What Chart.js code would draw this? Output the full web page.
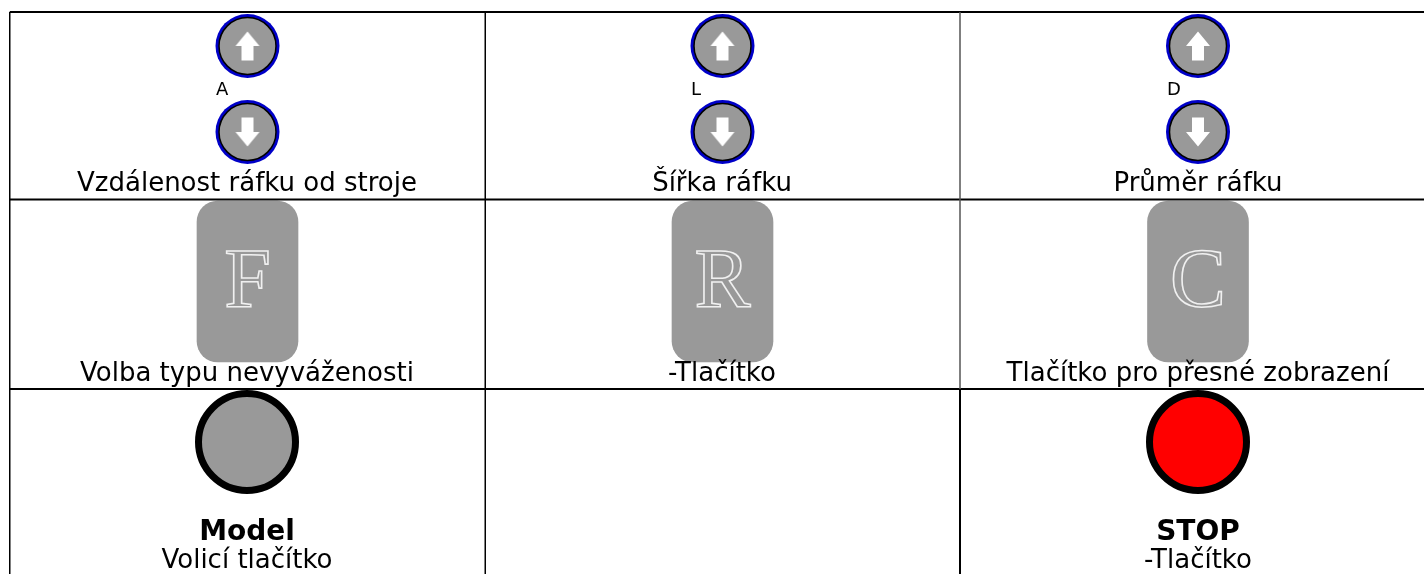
<!DOCTYPE html>
<html>
<head>
<meta charset="utf-8">
<title>Tlačítka</title>
<script src="https://cdn.jsdelivr.net/npm/chart.js@4"></script>
<style>
body { margin: 0; background: #fff; }
canvas { display: block; }
</style>
</head>
<body>
<canvas id="myChart" width="1424" height="574"></canvas>
<script>
// table lines
const columnLines = [9.75, 485.25, 960]
const rowLines = [12, 199.5, 389]
const columnColors = ['#000', '#000', '#555']
const columnWidths = [1.5, 1.5, 1.5]
const tableRight = 1424
const tableBottom = 574

// round arrow buttons
const arrowX = [247.5, 722.5, 1198]
const arrowUpY = [46, 46, 46]
const arrowDownY = [132, 132, 132]

// rounded key buttons
const keyX = [247.5, 722.5, 1198]
const keyTop = [201, 201, 201]
const keyBottom = [362, 362, 362]
const keyLetters = ['F', 'R', 'C']
const keyLetterY = [307, 307, 307]

// big round buttons
const bigX = [247, 1198]
const bigY = [442, 442]
const bigColors = ['#999999', '#ff0000']
const bigLabels = ['Model', 'STOP']
const bigLabelY = [540, 540]
const bigCaptions = ['Volicí tlačítko', '-Tlačítko']
const bigCaptionY = [568, 568]

// small letters next to arrows
const smallLabels = ['A', 'L', 'D']
const smallX = [216, 691, 1167]
const smallY = [95, 95, 95]

// captions
const captions = ['Vzdálenost ráfku od stroje', 'Šířka ráfku', 'Průměr ráfku',
    'Volba typu nevyváženosti', '-Tlačítko', 'Tlačítko pro přesné zobrazení']
const captionX = [247, 722, 1198, 247, 722, 1198]
const captionY = [191, 191, 191, 381, 381, 381]

const textFont = '"DejaVu Sans"'

function arrowImage(up) {
    let c = document.createElement('canvas')
    c.width = 26
    c.height = 30
    let g = c.getContext('2d')
    if (!up) {
        g.translate(0, 30)
        g.scale(1, -1)
    }
    g.fillStyle = '#fff'
    g.beginPath()
    g.moveTo(13, 0.5)
    g.lineTo(25, 15)
    g.lineTo(19, 15)
    g.lineTo(19, 29.5)
    g.lineTo(7, 29.5)
    g.lineTo(7, 15)
    g.lineTo(1, 15)
    g.closePath()
    g.fill()
    return c
}

function pts(xs, ys) {
    return xs.map((x, i) => ({ x: x, y: ys[i] }))
}

let datasets = []

columnLines.forEach((x, i) => {
    datasets.push({
        type: 'scatter', showLine: true, pointRadius: 0, borderColor: columnColors[i], borderWidth: columnWidths[i],
        data: [{ x: x, y: rowLines[0] }, { x: x, y: rowLines[2] }]
    })
    datasets.push({
        type: 'scatter', showLine: true, pointRadius: 0, borderColor: '#000', borderWidth: i == 2 ? 2 : 1.5,
        data: [{ x: x, y: rowLines[2] }, { x: x, y: tableBottom }]
    })
})
rowLines.forEach(y => {
    datasets.push({
        type: 'scatter', showLine: true, pointRadius: 0, borderColor: '#000', borderWidth: 2,
        data: [{ x: columnLines[0], y: y }, { x: tableRight, y: y }]
    })
})

// order: lower is drawn on top
let ups = pts(arrowX, arrowUpY)
let downs = pts(arrowX, arrowDownY)
let rings = ups.concat(downs)
datasets.push({
    type: 'scatter', order: 5, data: rings, pointRadius: 32, pointBackgroundColor: '#0000c8', pointBorderWidth: 0
})
datasets.push({
    type: 'scatter', order: 4, data: rings, pointRadius: 28.5, pointBackgroundColor: '#999999',
    pointBorderColor: '#000', pointBorderWidth: 1.5
})
datasets.push({ type: 'scatter', order: 3, data: ups, pointStyle: arrowImage(true) })
datasets.push({ type: 'scatter', order: 3, data: downs, pointStyle: arrowImage(false) })
datasets.push({
    type: 'bar', order: 6, data: keyX.map((x, i) => ({ x: x, y: [keyTop[i], keyBottom[i]] })),
    backgroundColor: '#999999', barThickness: 101, borderRadius: 21, borderSkipped: false
})
datasets.push({
    type: 'scatter', order: 4, data: pts(bigX, bigY), pointRadius: 48.5,
    pointBackgroundColor: bigColors, pointBorderColor: '#000', pointBorderWidth: 7
})

const labelsPlugin = {
    id: 'labels',
    afterDatasetsDraw(chart) {
        let c = chart.ctx
        let sx = chart.scales.x
        let sy = chart.scales.y
        c.save()
        c.fillStyle = '#000'
        c.textAlign = 'center'
        c.textBaseline = 'alphabetic'
        c.font = '26px ' + textFont
        captions.forEach((t, i) => c.fillText(t, sx.getPixelForValue(captionX[i]), sy.getPixelForValue(captionY[i])))
        bigCaptions.forEach((t, i) => c.fillText(t, sx.getPixelForValue(bigX[i]), sy.getPixelForValue(bigCaptionY[i])))
        c.font = 'bold 28px ' + textFont
        bigLabels.forEach((t, i) => c.fillText(t, sx.getPixelForValue(bigX[i]), sy.getPixelForValue(bigLabelY[i])))
        c.font = '18px ' + textFont
        c.textAlign = 'left'
        smallLabels.forEach((t, i) => c.fillText(t, sx.getPixelForValue(smallX[i]), sy.getPixelForValue(smallY[i])))
        c.textAlign = 'center'
        c.font = '84px "Liberation Serif"'
        c.strokeStyle = '#f0f0f0'
        c.lineWidth = 1.6
        keyLetters.forEach((t, i) => c.strokeText(t, sx.getPixelForValue(keyX[i]), sy.getPixelForValue(keyLetterY[i])))
        c.restore()
    }
}

var ctx = document.getElementById('myChart')
var myChart = new Chart(ctx, {
    data: { datasets: datasets },
    plugins: [labelsPlugin],
    options: {
        responsive: false,
        animation: false,
        layout: { padding: 0, autoPadding: false },
        plugins: { legend: { display: false }, tooltip: { enabled: false } },
        scales: {
            x: { type: 'linear', display: false, min: 0, max: 1424, offset: false },
            y: { type: 'linear', display: false, min: 0, max: 574, reverse: true }
        }
    }
})
</script>
</body>
</html>
